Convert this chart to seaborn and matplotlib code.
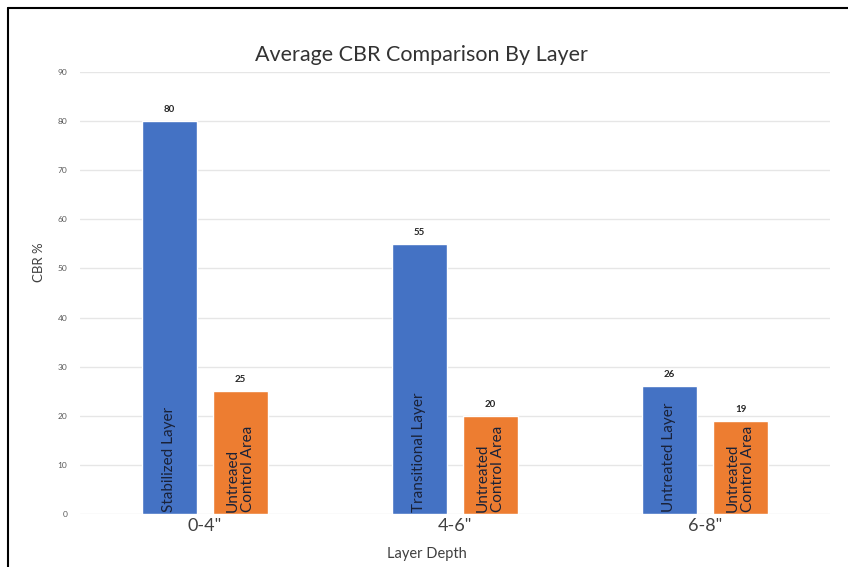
import matplotlib
matplotlib.use("Agg")
import matplotlib.pyplot as plt
from matplotlib.lines import Line2D
import seaborn as sns
import pandas as pd

# Data
depths = ['0-4"', '4-6"', '6-8"']
layer_values = [80, 55, 26]
control_values = [25, 20, 19]
layer_names = ["Stabilized Layer", "Transitional Layer", "Untreated Layer"]
control_names = ["Untreaed\nControl Area", "Untreated\nControl Area", "Untreated\nControl Area"]
series = ["Layer", "Control"]
y_ticks = list(range(0, 100, 10))

df = pd.DataFrame({
    "depth": depths * 2,
    "series": [series[0]] * 3 + [series[1]] * 3,
    "cbr": layer_values + control_values,
    "name": layer_names + control_names,
})

sns.set_theme(style="white")
plt.rcParams["font.family"] = ["Lato", "DejaVu Sans"]

fig = plt.figure(figsize=(8.48, 5.67), dpi=100)
ax = fig.add_axes([80 / 848, 1 - 514 / 567, 750 / 848, 442 / 567])

sns.barplot(
    data=df, x="depth", y="cbr", hue="series", order=depths, hue_order=series,
    palette=["#4472C4", "#ED7D31"], width=0.568, gap=0.225, legend=False,
    saturation=1, ax=ax,
)

ax.set_ylim(0, 90)
ax.set_xlim(-0.5, 2.5)
ax.set_yticks(y_ticks)
ax.set_yticklabels([str(t) for t in y_ticks], fontsize=6, color="#595959")
ax.tick_params(axis="y", length=0, pad=9)
ax.tick_params(axis="x", length=0, pad=3, labelsize=13, labelcolor="#404040")
ax.yaxis.grid(True, color="#e6e6e6", linewidth=1)
ax.set_axisbelow(True)
for s in ax.spines.values():
    s.set_visible(False)

ax.set_ylabel("CBR %", fontsize=9.5, color="#404040")
ax.yaxis.set_label_coords(-0.047, 0.57)
ax.set_xlabel("Layer Depth", fontsize=10.5, color="#404040")
ax.xaxis.set_label_coords(0.463, -0.075)
fig.text(421 / 848, 1 - 55 / 567, "Average CBR Comparison By Layer",
         ha="center", va="center", fontsize=15.5, color="#333333")

# Value labels above bars and names inside bars
bars = [p for p in ax.patches if p.get_height() > 0]
bars.sort(key=lambda p: p.get_x())
names_sorted = []
for i in range(3):
    names_sorted += [layer_names[i], control_names[i]]
vals_sorted = []
for i in range(3):
    vals_sorted += [layer_values[i], control_values[i]]
for p, name, v in zip(bars, names_sorted, vals_sorted):
    cx = p.get_x() + p.get_width() / 2
    ax.text(cx, v + 1.4, f"{v}", ha="center", va="bottom",
            fontsize=7, fontweight="bold", color="#262626")
    ax.text(cx, 0.5, name, rotation=90, ha="center", va="bottom",
            fontsize=11, color="#1a2238", linespacing=1.05, multialignment="left")

# Frame edges along left and top
fig.add_artist(Line2D([8 / 848, 8 / 848], [0, 1 - 8 / 567], color="black",
                      linewidth=1.5, transform=fig.transFigure))
fig.add_artist(Line2D([8 / 848, 1], [1 - 8 / 567, 1 - 8 / 567], color="black",
                      linewidth=1.5, transform=fig.transFigure))

fig.savefig("out.png", dpi=100)
